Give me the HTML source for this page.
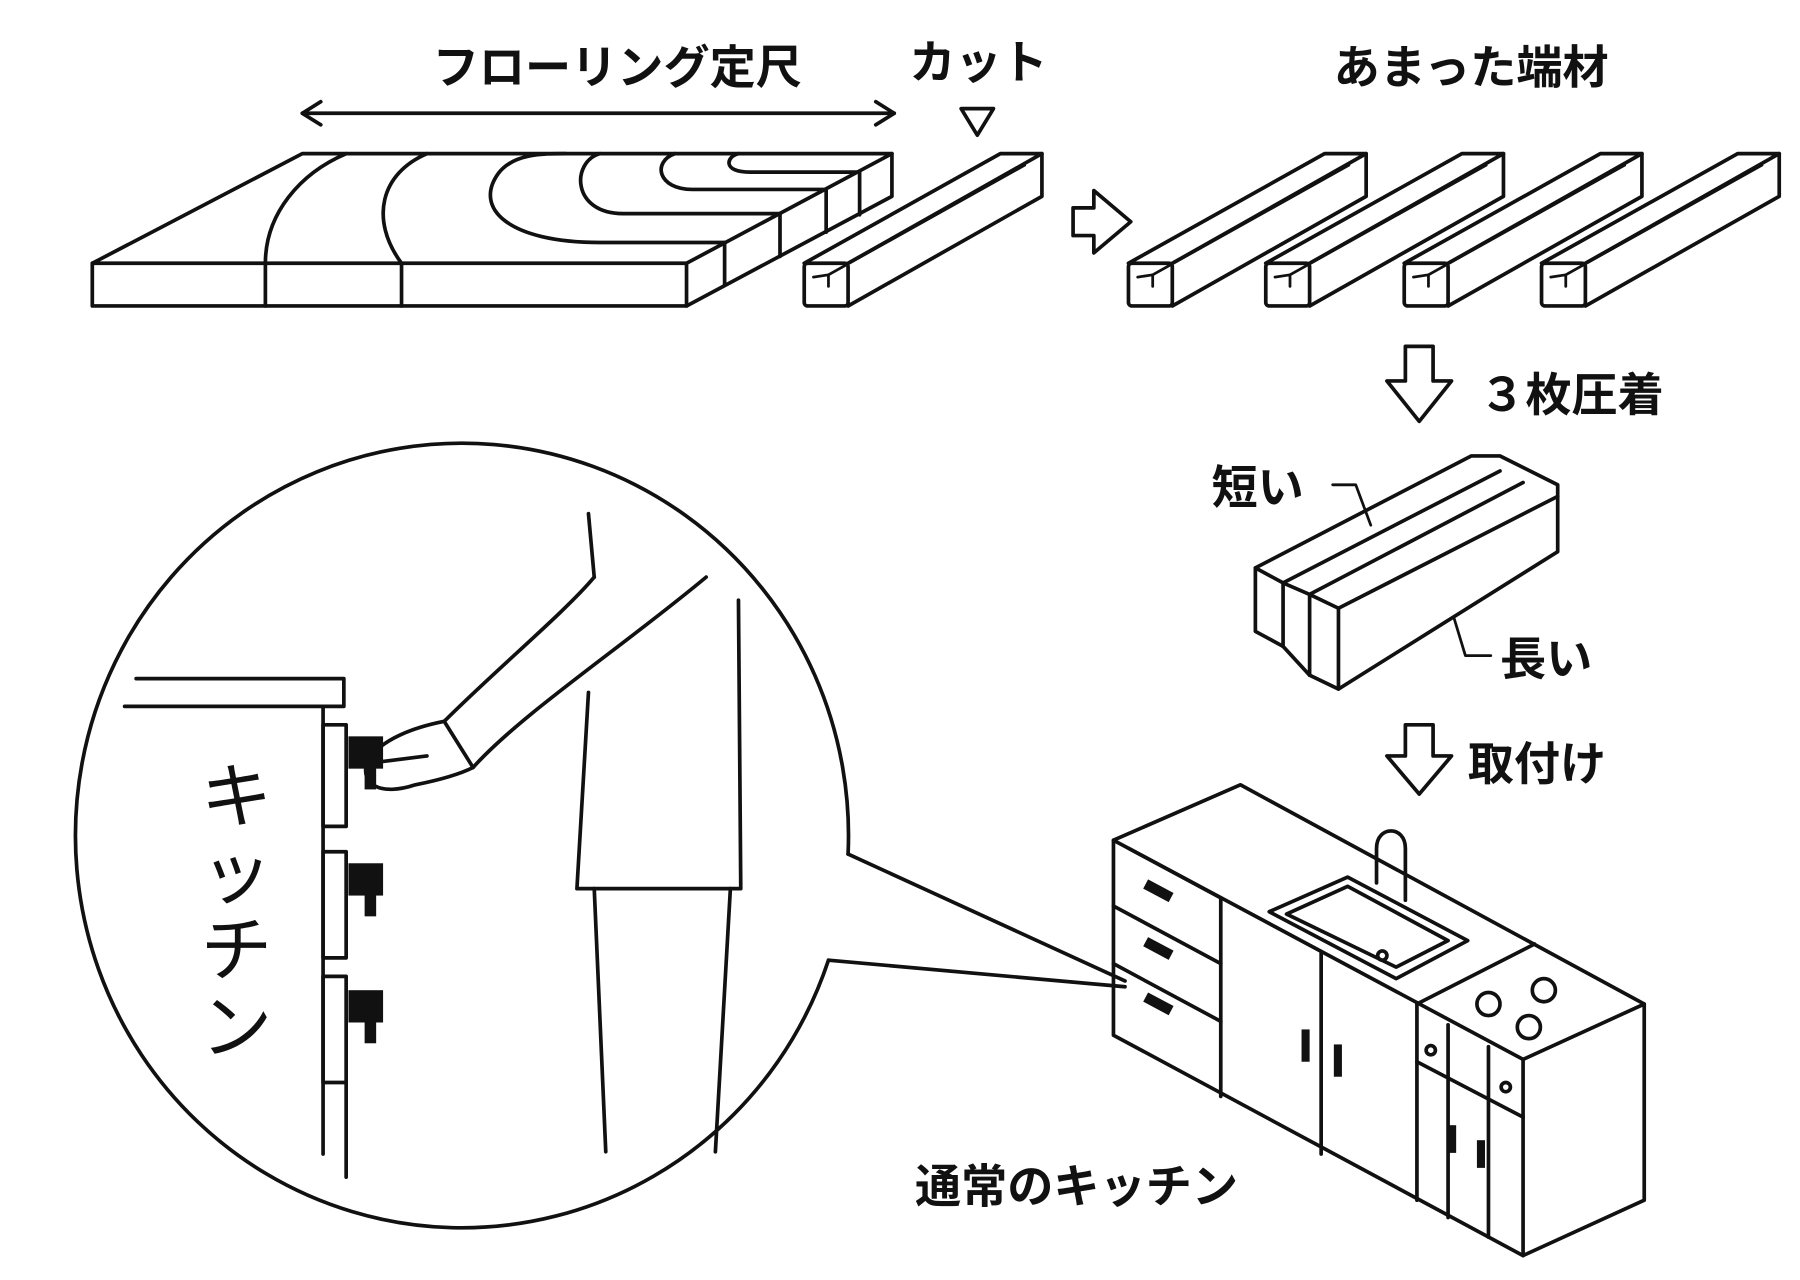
<!DOCTYPE html>
<html><head><meta charset="utf-8"><style>
html,body{margin:0;padding:0;background:#fff}
svg{display:block}
text{font-family:"Liberation Sans","Noto Sans CJK JP",sans-serif;font-weight:bold;fill:#111}
text.thin{font-weight:normal}
</style></head><body>
<svg width="1800" height="1280" viewBox="0 0 1560 1109" xmlns="http://www.w3.org/2000/svg">
<g fill="none" stroke="#111" stroke-width="3.2" stroke-linejoin="round" stroke-linecap="round">
<line x1="262" y1="98" x2="775" y2="98"/>
<polyline points="278,88 262,98 278,108"/><polyline points="759,88 775,98 759,108"/>
<polygon points="833,94 861,94 847,117"/>
<polygon points="80,228 262,133 773,133 773,170 595,265 80,265"/>
<line x1="80" y1="228" x2="595" y2="228"/><line x1="595" y1="228" x2="773" y2="133"/>
<line x1="595" y1="228" x2="595" y2="265"/>
<line x1="230" y1="228" x2="230" y2="265"/><line x1="348" y1="228" x2="348" y2="265"/>
<line x1="628" y1="210" x2="628" y2="247"/><line x1="676" y1="185" x2="676" y2="222"/>
<line x1="716" y1="164" x2="716" y2="201"/><line x1="745" y1="149" x2="745" y2="186"/>
<path d="M230,228 C230,185 260,150 300,133"/>
<path d="M348,228 C320,190 330,150 370,133"/>
<path d="M628,210 L520,210 C440,210 410,180 432,150 C445,133 470,133 490,133"/>
<path d="M676,185 L540,185 C495,185 495,140 520,133"/>
<path d="M716,164 L600,164 C570,164 565,140 585,133"/>
<path d="M745,149 L650,149 C625,149 630,135 640,133"/>
<g id="st">
<rect x="697" y="228" width="38" height="37" rx="3"/>
<polyline points="697,228 867,133 903,133 903,170 735,265"/>
<line x1="735" y1="228" x2="903" y2="133"/>
<polyline points="705,240 718,238 718,248" stroke-width="2.4"/>
<line x1="718" y1="238" x2="888" y2="143" stroke-width="2.4"/>
</g>
<use href="#st" x="281"/><use href="#st" x="400"/><use href="#st" x="520"/><use href="#st" x="639"/>
<polygon points="930,180 948,180 948,165 980,192 948,219 948,204 930,204"/>
<polygon points="1218,300 1242,300 1242,330 1258,330 1230,365 1202,330 1218,330"/>
<polygon points="1218,628 1242,628 1242,655 1258,655 1230,688 1202,655 1218,655"/>
<polygon points="1088,492 1275,395 1300,395 1350,420 1350,478 1160,597 1135,585 1112,560 1088,547"/>
<line x1="1088" y1="492" x2="1112" y2="505"/><line x1="1112" y1="505" x2="1112" y2="560"/>
<line x1="1112" y1="505" x2="1300" y2="408"/>
<line x1="1112" y1="505" x2="1135" y2="515"/><line x1="1135" y1="515" x2="1135" y2="585"/>
<line x1="1135" y1="515" x2="1320" y2="418"/>
<line x1="1135" y1="515" x2="1160" y2="527"/><line x1="1160" y1="527" x2="1160" y2="597"/>
<line x1="1160" y1="527" x2="1350" y2="430"/>
<polyline points="1155,420 1175,420 1188,455" stroke-width="2.4"/>
<polyline points="1260,535 1270,568 1292,568" stroke-width="2.4"/>
<path d="M735,740 A335,340 0 1 0 718,832"/>
<line x1="735" y1="740" x2="975" y2="850"/><line x1="718" y1="832" x2="975" y2="855"/>
<polyline points="118,588 298,588 298,612 108,612"/>
<line x1="280" y1="612" x2="280" y2="1000"/>
<rect x="280" y="628" width="20" height="88"/>
<rect x="280" y="738" width="20" height="92"/>
<rect x="280" y="846" width="20" height="92"/>
<line x1="300" y1="938" x2="300" y2="1020"/>
<g fill="#111" stroke="none">
<rect x="302" y="638" width="30" height="28"/><rect x="302" y="748" width="30" height="28"/><rect x="302" y="858" width="30" height="28"/>
<rect x="316" y="660" width="10" height="24"/><rect x="316" y="770" width="10" height="24"/><rect x="316" y="880" width="10" height="24"/>
</g>
<line x1="510" y1="445" x2="515" y2="500"/>
<path d="M515,500 C490,530 430,580 385,625 L410,665 C450,620 540,560 612,500"/>
<path d="M385,625 C360,630 330,640 318,660 C312,680 330,690 360,680 C385,675 400,670 410,665"/>
<line x1="330" y1="660" x2="370" y2="655"/>
<path d="M510,600 L500,770 L642,770 L640,520"/>
<line x1="515" y1="770" x2="525" y2="998"/><line x1="633" y1="770" x2="620" y2="998"/>
<polygon points="965,728 1075,680 1425,870 1425,1040 1320,1088 965,897"/>
<line x1="965" y1="728" x2="1320" y2="918"/><line x1="1320" y1="918" x2="1425" y2="870"/><line x1="1320" y1="918" x2="1320" y2="1088"/>
<line x1="978" y1="735" x2="1058" y2="778"/>
<line x1="1058" y1="778" x2="1058" y2="950"/>
<line x1="965" y1="785" x2="1058" y2="835"/><line x1="965" y1="835" x2="1058" y2="885"/>
<line x1="1145" y1="826" x2="1145" y2="1000"/><line x1="1228" y1="870" x2="1228" y2="1040"/>
<line x1="1228" y1="870" x2="1330" y2="818"/>
<line x1="1228" y1="920" x2="1320" y2="968"/>
<line x1="1255" y1="888" x2="1255" y2="1055"/><line x1="1290" y1="907" x2="1290" y2="1072"/>
<polygon points="1100,790 1168,760 1272,815 1210,848"/>
<polygon points="1115,792 1168,768 1255,815 1210,838"/>
<path d="M1193,765 L1193,735 C1193,715 1218,715 1218,735 L1218,780"/>
<circle cx="1290" cy="870" r="10"/><circle cx="1338" cy="858" r="10"/><circle cx="1325" cy="890" r="10"/>
<circle cx="1240" cy="910" r="4"/><circle cx="1305" cy="942" r="4"/><circle cx="1198" cy="828" r="4"/>
</g>
<g fill="#111">
<rect x="995" y="762" width="25" height="9" transform="rotate(28 995 762)"/>
<rect x="995" y="812" width="25" height="9" transform="rotate(28 995 812)"/>
<rect x="995" y="860" width="25" height="9" transform="rotate(28 995 860)"/>
<rect x="1128" y="892" width="7" height="28"/><rect x="1156" y="905" width="7" height="28"/>
<rect x="1255" y="975" width="7" height="24"/><rect x="1280" y="988" width="7" height="24"/>
</g>
<text x="535" y="72" font-size="40" text-anchor="middle">フローリング定尺</text>
<text x="848" y="68" font-size="40" text-anchor="middle">カット</text>
<text x="1275" y="72" font-size="40" text-anchor="middle">あまった端材</text>
<text x="1282" y="356" font-size="40">３枚圧着</text>
<text x="1272" y="676" font-size="40">取付け</text>
<text x="1050" y="436" font-size="40">短い</text>
<text x="1300" y="585" font-size="40">長い</text>
<text x="793" y="1042" font-size="40">通常のキッチン</text>
<text class="thin" x="205" y="712" font-size="62" text-anchor="middle">キ</text>
<text class="thin" x="205" y="778" font-size="62" text-anchor="middle">ッ</text>
<text class="thin" x="205" y="845" font-size="62" text-anchor="middle">チ</text>
<text class="thin" x="205" y="912" font-size="62" text-anchor="middle">ン</text>
</svg>
</body></html>
